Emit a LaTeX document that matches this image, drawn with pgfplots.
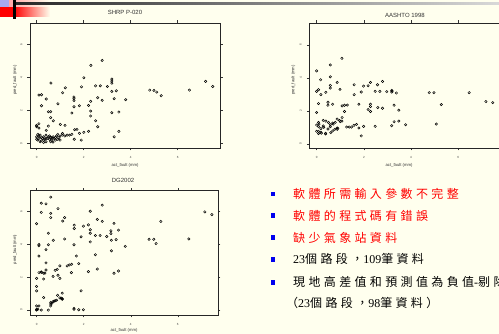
\documentclass[border=0pt]{standalone}
\usepackage{fontspec}
\setmainfont{Liberation Serif}
\newfontfamily\sansf{Liberation Sans}
\newfontfamily\cjk[LetterSpace=28]{Noto Sans CJK TC}
\usepackage{pgfplots}
\pgfplotsset{compat=1.18}
\definecolor{bg}{HTML}{FFFFEE}
\definecolor{lav}{HTML}{A8A8F0}
\definecolor{bul}{HTML}{0000EE}
\pgfplotsset{
  spss/.style={
    scale only axis, anchor=south west,
    axis line style={line width=0.7pt, black!85},
    tick style={black!80, line width=0.4pt},
    tick align=outside, major tick length=2.5pt,
    xtick={0,2,4,6}, ytick={0,2,4,6},
    /pgf/number format/assume math mode=true,
    tick label style={font=\sansf\fontsize{3}{3}\selectfont, text=black!75},
    xticklabel style={yshift=-2.5pt},
    yticklabel style={rotate=90, anchor=south, yshift=1.5pt},
    xlabel={act\_fault (mm)}, ylabel={pred\_fault (mm)},
    label style={font=\sansf\fontsize{4.2}{4.2}\selectfont, text=black!80},
    title style={font=\sansf\fontsize{6}{6}\selectfont, text=black!80, anchor=center},
  },
  pts/.style={only marks, mark=o, mark size=1.2pt, mark options={line width=0.5pt, black}},
}
\begin{document}
\begin{tikzpicture}
\useasboundingbox (0,0) rectangle (499pt,334pt);
\clip (0,0) rectangle (499pt,334pt);
\fill[bg] (0,0) rectangle (499pt,334pt);
% top-left decoration
\fill[red] (0pt,317pt) rectangle (14pt,327pt);
\shade[left color=red, right color=bg] (14pt,317pt) rectangle (50pt,327pt);
\shade[left color=red!35, right color=bg] (9pt,327pt) rectangle (50pt,334pt);
\fill[lav] (0pt,327pt) rectangle (9pt,334pt);
\shade[left color=black!85, right color=black!15] (16pt,329.3pt) rectangle (499pt,331.3pt);
\fill[black] (13.3pt,314.7pt) rectangle (16pt,334pt);

% SHRP P-020
\begin{axis}[spss, at={(30pt,186pt)}, width=190pt, height=125pt,
  xmin=-0.28, xmax=7.8, ymin=-0.28, ymax=7.3,
  title={SHRP P-020}, title style={at={(axis description cs:0.5,1)}, yshift=5pt},
  xlabel style={at={(axis description cs:0.5,0)}, anchor=center, yshift=-17pt},
  ylabel style={at={(axis description cs:-0.079,0.544)}, anchor=center}]
\addplot[pts] coordinates {
(2.79,5.03) (2.31,4.73) (2.01,3.98) (0.61,3.66) (3.2,3.9) (3.2,3.78) (3.2,3.65)
(1.22,3.37) (1.91,3.43) (2.51,3.49) (2.71,3.49) (3.01,3.45) (1.11,3.07) (0.1,2.93)
(0.21,2.95) (0.41,2.69) (1.59,2.81) (1.59,2.71) (1.59,2.59) (3.2,3.15) (3.39,3.19)
(2.3,2.55) (2.6,2.77) (2.79,2.61) (3.3,2.71) (3.79,2.65) (4.81,3.23) (4.99,3.21)
(5.11,3.11) (5.3,2.89) (6.5,3.23) (7.19,3.76) (7.49,3.45) (0.21,2.28) (0.91,2.4)
(1.59,2.22) (1.82,2.28) (2.21,2.3) (2.3,1.96) (0.5,1.92) (0.6,1.92) (1.5,1.84)
(3.2,1.86) (3.5,1.9) (2.3,1.66) (0.6,1.56) (0.71,1.37) (2.51,1.37) (2.6,1.01)
(0.1,1.19) (0,1.09) (0,1.01) (0.1,0.93) (0.5,1.05) (1.01,1.15) (1.21,1.09)
(0.41,0.79) (1.62,0.83) (1.72,0.85) (1.82,0.61) (2.01,0.67) (2.21,0.73) (3.5,0.73)
(3.3,0.40) (0,0.4) (0,0.25) (0.1,0.45) (0.1,0.3) (0.2,0.35) (0.2,0.15) (0.3,0.4)
(0.3,0.2) (0.4,0.5) (0.4,0.1) (0.45,0.3) (0.5,0.4) (0.55,0.25) (0.6,0.35) (0.65,0.2)
(0.7,0.4) (0.7,0.08) (0.8,0.35) (0.85,0.45) (0.9,0.25) (0.9,0.55) (1.0,0.45) (1.0,0.2)
(1.1,0.5) (1.1,0.6) (1.3,0.5) (1.4,0.5) (1.5,0.55) (1.6,0.25) (1.9,0.2) (0.05,0.2)
(0.15,0.5) (0.25,0.3) (0.35,0.25) (0.55,0.45) (0.75,0.3) (0.8,0.2) (0.15,0.1)
(0.6,0.1) (1.2,0.45) (0.05,0.55) (0.95,0.35) (0.3,0.05) (0.4,0.3) (0.65,0.35)
};
\end{axis}

% AASHTO 1998
\begin{axis}[spss, at={(309.3pt,186pt)}, width=196pt, height=125pt,
  xmin=-0.31, xmax=7.99, ymin=-0.25, ymax=7.32,
  title={AASHTO 1998}, title style={at={(axis description cs:0.488,1)}, yshift=2pt},
  xlabel style={at={(axis description cs:0.458,0)}, anchor=center, yshift=-17pt},
  ylabel style={at={(axis description cs:-0.082,0.544)}, anchor=center}]
\addplot[pts] coordinates {
(1.07,5.18) (0.58,4.78) (0,4.42) (0.58,4.06) (0.17,3.88) (0.87,3.72) (2.79,3.78)
(2.28,3.72) (1.59,3.58) (1.99,3.5) (2.18,3.52) (2.58,3.58) (0.58,3.54) (0.58,3.38)
(0.99,3.3) (0,3.18) (0.08,3.28) (0.39,3.12) (0.18,2.98) (1.59,2.98) (1.89,3.14)
(2.48,3.18) (2.68,3.18) (2.97,3.16) (3.18,3.24) (3.18,3.14) (3.38,3.08) (4.77,3.1)
(4.97,3.1) (6.46,3.1) (7.17,2.56) (7.46,2.5) (5.28,2.38) (0.08,2.44) (0.48,2.52)
(0.48,2.34) (0.68,2.4) (1.08,2.3) (1.18,2.34) (1.79,2.4) (2.28,2.4) (2.28,2.26)
(2.18,2.08) (2.28,1.96) (2.59,2.2) (2.79,2.16) (3.28,2.34) (3.48,2.04) (0,1.9)
(1.18,1.96) (1.08,1.6) (0.87,1.5) (0.97,1.42) (1.07,1.38) (0.28,1.42) (0.39,1.38)
(0.08,1.3) (0.68,1.26) (0.58,1.16) (0.79,1.3) (0,1.14) (0.08,1.04) (0.28,1.08)
(0.58,1.04) (0.18,0.92) (0.48,0.9) (0.68,0.78) (0.77,0.88) (0.87,0.88) (0.87,0.96)
(1.27,1.02) (1.38,1.02) (1.48,1.02) (1.58,1.12) (1.69,1.18) (1.79,0.96) (1.99,1.06)
(2.48,1.06) (1.89,0.48) (0,0.76) (0.08,0.76) (0.08,0.62) (0.18,0.7) (0.38,0.6)
(0.38,0.64) (3.18,1.1) (3.28,1.34) (3.48,1.38) (3.77,1.16) (5.07,1.2)
(0.1,1.2) (0.3,1.0) (0.5,1.3) (0.7,1.2) (0.9,0.95) (0.6,0.68) (0.2,0.65) (1.0,1.35)
(1.3,2.35) (3.2,3.2)
};
\end{axis}

% DG2002
\begin{axis}[spss, at={(30pt,19pt)}, width=188pt, height=124.3pt,
  xmin=-0.28, xmax=7.71, ymin=-0.3, ymax=7.27,
  title={DG2002}, title style={at={(axis description cs:0.495,1)}, yshift=4.7pt},
  xlabel style={at={(axis description cs:0.5,0)}, anchor=center, yshift=-15pt},
  ylabel style={at={(axis description cs:-0.08,0.527)}, anchor=center}]
\addplot[pts] coordinates {
(0.6,6.88) (0.2,6.51) (0.4,6.47) (2.79,6.39) (0.91,6.18) (0.2,5.95) (0.6,5.89)
(2.28,6.02) (7.15,5.98) (7.45,5.81) (1.19,5.63) (1.11,5.42) (0.6,5.63) (0,5.26)
(2.58,5.52) (2.79,5.4) (5.28,5.4) (1.6,5.17) (1.6,4.97) (1.99,5.11) (2.2,5.19)
(3.29,5.28) (2.28,4.89) (2.28,4.68) (3.16,4.83) (3.16,4.66) (3.48,4.87) (0.5,4.68)
(1.89,4.46) (2.5,4.54) (2.7,4.54) (2.98,4.48) (0.71,4.25) (1.19,4.33) (3.18,4.25)
(3.38,4.29) (4.78,4.31) (4.98,4.31) (5.08,4.05) (6.47,4.33) (2.28,4.15) (0.1,4.0)
(0.1,3.92) (0.5,3.98) (1.59,3.98) (3.77,3.88) (0.4,3.68) (3.18,3.61) (0.1,3.29)
(1.69,3.29) (2.5,3.37) (0.4,2.87) (1.79,2.83) (0.99,2.69) (1.49,2.79) (1.39,2.75)
(1.3,2.69) (2.58,2.5) (0.4,2.44) (0.79,2.42) (0.88,2.48) (0.2,2.32) (0.1,2.28)
(0.3,2.24) (1.48,2.28) (2.2,2.34) (3.48,2.38) (3.29,2.24) (0.7,2.05) (0.91,2.12)
(0,1.93) (0.3,1.89) (0.99,1.93) (0,1.44) (0,1.17) (1.89,1.17) (1.09,1.03) (0.3,0.76)
(0.89,0.9) (0.99,0.74) (1.09,0.66) (1.09,0.7) (0.79,0.57) (0.7,0.51) (0.6,0.47)
(0.6,0.37) (0.6,0.25) (0,0.25) (0.1,0.25) (0,0.04) (0,0) (0.2,0) (0.5,0) (1.59,0.1)
(1.59,0.04) (1.79,0.02) (1.99,0.02) (0.35,2.25) (0.75,0.55) (0.85,0.6) (0.05,0.05)
(0.2,2.3) (0.65,0.42) (1.05,0.72)
};
\end{axis}

% bullet text
\foreach \yy in {140,118.3,96.3,74.7,51.7}{
  \fill[bul] (270.5pt,\yy pt-2.3pt) rectangle ++(4.6pt,4.6pt);
}
\begin{scope}[every node/.style={anchor=base west, inner sep=0pt, font=\fontsize{12}{14}\selectfont}]
\node[text=red] at (293pt,135pt) {\cjk 軟體所需輸入參數不完整};
\node[text=red] at (293pt,113.5pt) {\cjk 軟體的程式碼有錯誤};
\node[text=red] at (293pt,91.5pt) {\cjk 缺少氣象站資料};
\node at (293pt,70pt) {23{\cjk 個路段，}109{\cjk 筆資料}};
\node at (293pt,47.5pt) {{\cjk 現地高差值和預測值為負值}-{\cjk 剔除}};
\node at (286pt,26.5pt) {{\cjk （}23{\cjk 個路段，}98{\cjk 筆資料）}};
\end{scope}
\end{tikzpicture}
\end{document}
